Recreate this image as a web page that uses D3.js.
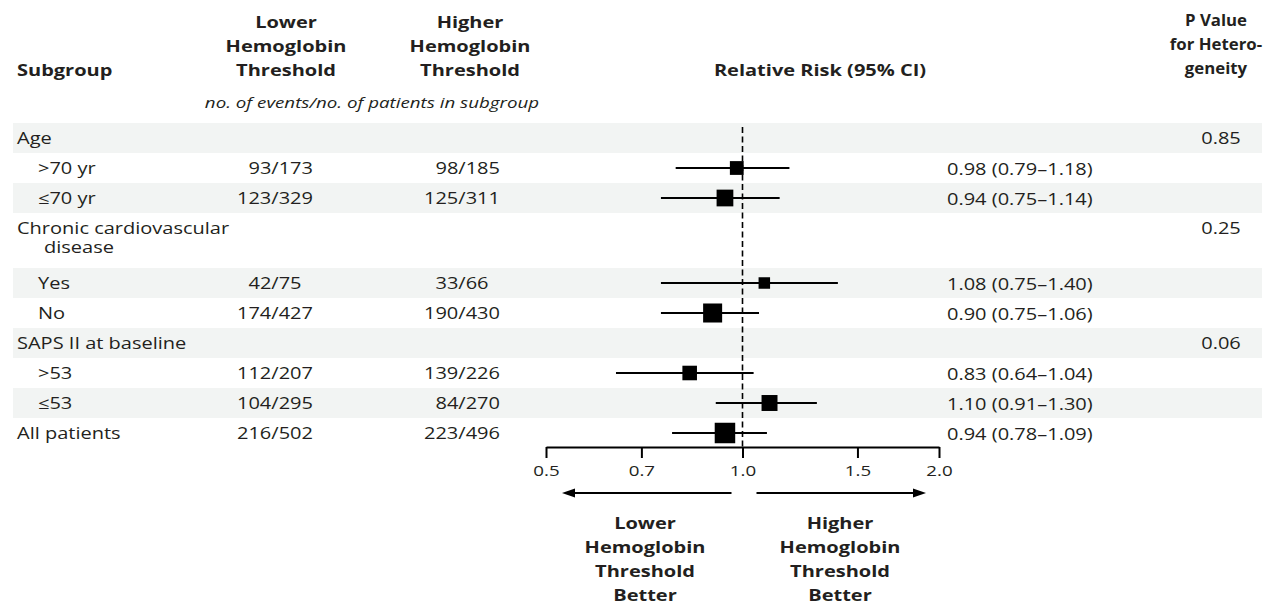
<!DOCTYPE html>
<html>
<head>
<meta charset="utf-8">
<script src="https://cdn.jsdelivr.net/npm/d3@7"></script>
<style>
  html, body { margin: 0; padding: 0; background: #ffffff; }
  svg { display: block; }
  text { font-family: "Open Sans", "Noto Sans", sans-serif; fill: #231f20; }
</style>
</head>
<body>
<svg id="chart" width="1265" height="610"></svg>
<script>
// Subgroup rows ("|" splits a label over two lines)
const subgroups = ["Age", ">70 yr", "≤70 yr", "Chronic cardiovascular|disease", "Yes", "No",
                   "SAPS II at baseline", ">53", "≤53", "All patients"];
const subgroupLevel = [0, 1, 1, 0, 1, 1, 0, 1, 1, 0];

// Events / patients per arm
const lowerEvents   = [null, 93, 123, null, 42, 174, null, 112, 104, 216];
const lowerTotals   = [null, 173, 329, null, 75, 427, null, 207, 295, 502];
const higherEvents  = [null, 98, 125, null, 33, 190, null, 139, 84, 223];
const higherTotals  = [null, 185, 311, null, 66, 430, null, 226, 270, 496];

// Relative risk with 95% confidence interval
const relRisk = [null, 0.98, 0.94, null, 1.08, 0.90, null, 0.83, 1.10, 0.94];
const ciLower = [null, 0.79, 0.75, null, 0.75, 0.75, null, 0.64, 0.91, 0.78];
const ciUpper = [null, 1.18, 1.14, null, 1.40, 1.06, null, 1.04, 1.30, 1.09];

// P value for heterogeneity (group rows)
const pHeterogeneity = ["0.85", null, null, "0.25", null, null, "0.06", null, null, null];

// Axis
const axisTicks = [0.5, 0.7, 1.0, 1.5, 2.0];

// ---------------------------------------------------------------------------
const svg = d3.select("#chart");
const SX = 1.25;              // horizontal stretch of the typeface
const INK = "#231f20";

function label(g, str, x, y, opt = {}) {
  const sx = opt.sx || SX;
  return g.append("text")
    .attr("transform", `translate(${x},${y}) scale(${sx},1)`)
    .attr("text-anchor", opt.anchor || "start")
    .attr("font-size", opt.size || 16)
    .attr("font-weight", opt.weight || 400)
    .attr("font-style", opt.style || "normal")
    .text(str);
}
function multiLine(g, lines, x, y0, step, opt) {
  lines.forEach((s, i) => label(g, s, x, y0 + i * step, opt));
}

// Row geometry
const tableTop = 123, rowH = 30, extraLine = 25;
const rows = subgroups.map((s, i) => ({
  lines: s.split("|"),
  level: subgroupLevel[i],
  lowE: lowerEvents[i], lowN: lowerTotals[i],
  highE: higherEvents[i], highN: higherTotals[i],
  rr: relRisk[i], lo: ciLower[i], hi: ciUpper[i],
  p: pHeterogeneity[i]
}));
let yCursor = tableTop;
rows.forEach(r => {
  r.top = yCursor;
  r.h = rowH + (r.lines.length - 1) * extraLine;
  r.cy = r.top + rowH / 2;
  yCursor += r.h;
});

// Alternating row bands
svg.append("g").selectAll("rect").data(rows.filter((r, i) => i % 2 === 0)).join("rect")
  .attr("x", 13).attr("width", 1249)
  .attr("y", d => d.top).attr("height", d => d.h)
  .attr("fill", "#f2f4f3");

// Column headers
const lowerCol = 275, higherCol = 462, pCol = 1221;
const head = svg.append("g");
label(head, "Subgroup", 17, 76, { weight: 700 });
multiLine(head, ["Lower", "Hemoglobin", "Threshold"], 286, 28, 24, { anchor: "middle", weight: 700 });
multiLine(head, ["Higher", "Hemoglobin", "Threshold"], 470, 28, 24, { anchor: "middle", weight: 700 });
label(head, "Relative Risk (95% CI)", 820, 76, { anchor: "middle", weight: 700 });
multiLine(head, ["P Value", "for Hetero-", "geneity"], 1216, 26, 24, { anchor: "middle", weight: 700, sx: 1.05 });
label(head, "no. of events/no. of patients in subgroup", 372, 108, { anchor: "middle", style: "italic", size: 15 });

// Table text
const body = svg.append("g");
rows.forEach(r => {
  const x0 = r.level === 0 ? 17 : 38;
  r.lines.forEach((s, k) => label(body, s, k === 0 ? x0 : 44, r.cy + 6 + k * 19));
});

// Count columns aligned on the slash
function countCell(e, n, slashX, y) {
  const t = label(body, `${e}/${n}`, 0, y);
  const probe = label(body, `${e}`, 0, -50);
  const slash = label(body, "/", 0, -50);
  const off = (probe.node().getComputedTextLength() + slash.node().getComputedTextLength() / 2) * SX;
  probe.remove(); slash.remove();
  t.attr("transform", `translate(${slashX - off},${y}) scale(${SX},1)`);
}
rows.forEach(r => {
  if (r.lowE != null) countCell(r.lowE, r.lowN, lowerCol, r.cy + 6);
  if (r.highE != null) countCell(r.highE, r.highN, higherCol, r.cy + 6);
  if (r.rr != null) label(body, `${r.rr.toFixed(2)} (${r.lo.toFixed(2)}–${r.hi.toFixed(2)})`, 947, r.cy + 7);
  if (r.p != null) label(body, r.p, pCol, r.cy + 6, { anchor: "middle" });
});

// Forest plot
const x = d3.scaleLog().domain([0.5, 2]).range([546, 939]);
const axisY = 447;
const plotted = rows.filter(r => r.rr != null);
const size = d3.scaleLinear()
  .domain(d3.extent(plotted, r => r.lowN + r.highN))
  .range([11.5, 20.5]);

const plot = svg.append("g");
plot.append("line")
  .attr("x1", x(1)).attr("x2", x(1)).attr("y1", 127).attr("y2", axisY)
  .attr("stroke", "#000").attr("stroke-width", 1.6).attr("stroke-dasharray", "6,3.5");

plot.selectAll("line.ci").data(plotted).join("line").attr("class", "ci")
  .attr("x1", d => x(d.lo)).attr("x2", d => x(d.hi))
  .attr("y1", d => d.cy).attr("y2", d => d.cy)
  .attr("stroke", "#000").attr("stroke-width", 2);

plot.selectAll("rect.pt").data(plotted).join("rect").attr("class", "pt")
  .attr("x", d => x(d.rr) - size(d.lowN + d.highN) / 2)
  .attr("y", d => d.cy - size(d.lowN + d.highN) / 2)
  .attr("width", d => size(d.lowN + d.highN))
  .attr("height", d => size(d.lowN + d.highN))
  .attr("fill", "#000");

// Axis
const axisG = svg.append("g").attr("transform", `translate(0,${axisY})`)
  .call(d3.axisBottom(x).tickValues(axisTicks).tickFormat(d3.format(".1f"))
        .tickSizeInner(11).tickSizeOuter(0).tickPadding(7));
axisG.select(".domain").attr("stroke", "#000").attr("stroke-width", 2);
axisG.selectAll(".tick line").attr("stroke", "#000").attr("stroke-width", 2);
axisG.selectAll(".tick text")
  .attr("font-family", "\"Open Sans\", \"Noto Sans\", sans-serif")
  .attr("font-size", 15).attr("fill", INK)
  .attr("transform", `scale(${SX},1)`);

// Direction arrows
const arrowY = 493;
const arrows = svg.append("g");
function arrow(x1, x2) {
  const dir = Math.sign(x2 - x1), head = 13;
  arrows.append("line").attr("x1", x1).attr("x2", x2 - dir * head).attr("y1", arrowY).attr("y2", arrowY)
    .attr("stroke", "#000").attr("stroke-width", 2);
  arrows.append("path")
    .attr("d", `M${x2},${arrowY} L${x2 - dir * head},${arrowY - 4.5} L${x2 - dir * head},${arrowY + 4.5} Z`)
    .attr("fill", "#000");
}
arrow(x(1) - 11, x(0.5) + 16);
arrow(x(1) + 14, x(2) - 13);

multiLine(svg, ["Lower", "Hemoglobin", "Threshold", "Better"], 645, 529, 24, { anchor: "middle", weight: 700 });
multiLine(svg, ["Higher", "Hemoglobin", "Threshold", "Better"], 840, 529, 24, { anchor: "middle", weight: 700 });
</script>
</body>
</html>
